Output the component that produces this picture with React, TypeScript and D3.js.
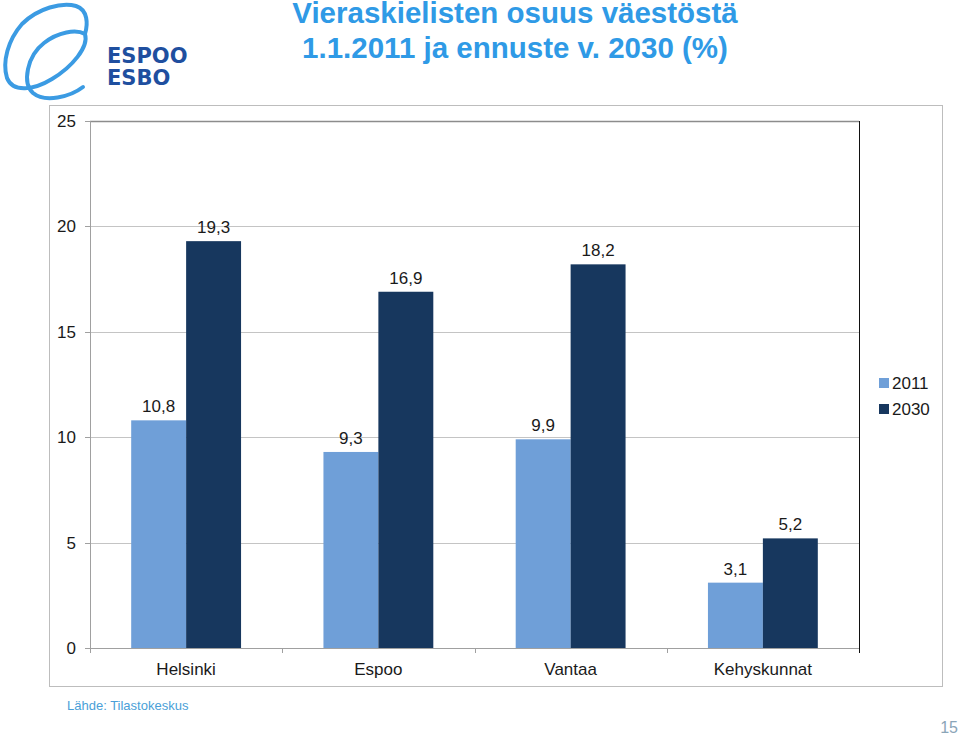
import React, { useEffect, useRef } from "react";
import * as d3 from "d3";

const categories = ["Helsinki", "Espoo", "Vantaa", "Kehyskunnat"];
const seriesNames = ["2011", "2030"];
const values2011 = [10.8, 9.3, 9.9, 3.1];
const values2030 = [19.3, 16.9, 18.2, 5.2];
const yTicks = [0, 5, 10, 15, 20, 25];
const colors = ["#6f9fd8", "#17375e"];

const fmt = (v: number) => String(v).replace(".", ",");

export default function App() {
  const svgRef = useRef<SVGSVGElement>(null);

  useEffect(() => {
    const svg = d3.select(svgRef.current);
    svg.selectAll("*").remove();
    const font = "Liberation Sans, Arial, sans-serif";

    svg.append("rect").attr("width", 960).attr("height", 736).attr("fill", "#fff");

    // logo swirl
    svg.append("path")
      .attr("fill", "none").attr("stroke", "#3b9be3").attr("stroke-width", 4).attr("stroke-linecap", "round")
      .attr("d", "M83,87 C70,97 45,103 33,93 C22,83 27,56 44,43 C58,32 76,29 85,34 C89,47 72,67 52,79 C34,90 13,93 7,78 C2,62 8,40 22,24 C38,8 62,2 76,6 C88,10 88,24 85,34");

    svg.append("text").attr("x", 107).attr("y", 63).attr("font-family", "DejaVu Sans, sans-serif").attr("font-weight", "bold")
      .attr("font-size", 21).attr("fill", "#1f4f9f").text("ESPOO");
    svg.append("text").attr("x", 107).attr("y", 85).attr("font-family", "DejaVu Sans, sans-serif").attr("font-weight", "bold")
      .attr("font-size", 21).attr("fill", "#1f4f9f").text("ESBO");

    // title
    const title = svg.append("text").attr("text-anchor", "middle").attr("font-family", font).attr("font-weight", "bold")
      .attr("font-size", 29.5).attr("fill", "#2f9ae6");
    title.append("tspan").attr("x", 515).attr("y", 23).text("Vieraskielisten osuus väestöstä");
    title.append("tspan").attr("x", 515).attr("y", 58).text("1.1.2011 ja ennuste v. 2030 (%)");

    // chart frame
    svg.append("rect").attr("x", 49.5).attr("y", 105.5).attr("width", 893).attr("height", 581)
      .attr("fill", "none").attr("stroke", "#bdbdbd");

    const left = 90, right = 859, top = 121, bottom = 648;
    const y = d3.scaleLinear().domain([0, 25]).range([bottom, top]);
    const x0 = d3.scaleBand<string>().domain(categories).range([left, right]);
    const x1 = d3.scaleBand<string>().domain(seriesNames).range([0, x0.bandwidth()]).paddingOuter(0.75);

    // gridlines
    svg.append("g").selectAll("line").data(yTicks.filter((t) => t > 0)).enter().append("line")
      .attr("x1", left).attr("x2", right)
      .attr("y1", (d) => Math.round(y(d)) + 0.5).attr("y2", (d) => Math.round(y(d)) + 0.5)
      .attr("stroke", (d) => (d === 25 ? "#8c8c8c" : "#c4c4c4")).attr("stroke-width", (d) => (d === 25 ? 1.5 : 1));

    // bars
    const data = categories.map((c, i) => ({ c, vals: [values2011[i], values2030[i]] }));
    const groups = svg.append("g").selectAll("g").data(data).enter().append("g")
      .attr("transform", (d) => `translate(${x0(d.c)},0)`);
    groups.selectAll("rect").data((d) => d.vals.map((v, j) => ({ s: seriesNames[j], v, j }))).enter().append("rect")
      .attr("x", (d) => x1(d.s)!).attr("width", x1.bandwidth())
      .attr("y", (d) => y(d.v)).attr("height", (d) => bottom - y(d.v))
      .attr("fill", (d) => colors[d.j]);
    groups.selectAll("text").data((d) => d.vals.map((v, j) => ({ s: seriesNames[j], v, j }))).enter().append("text")
      .attr("x", (d) => x1(d.s)! + x1.bandwidth() / 2).attr("y", (d) => y(d.v) - 8)
      .attr("text-anchor", "middle").attr("font-family", font).attr("font-size", 17).attr("fill", "#1a1a1a")
      .text((d) => fmt(d.v));

    // axes
    svg.append("line").attr("x1", left + 0.5).attr("x2", left + 0.5).attr("y1", top).attr("y2", bottom)
      .attr("stroke", "#a0a0a0");
    svg.append("line").attr("x1", right + 0.5).attr("x2", right + 0.5).attr("y1", top).attr("y2", bottom + 5)
      .attr("stroke", "#111");
    svg.append("line").attr("x1", left).attr("x2", right).attr("y1", bottom + 0.5).attr("y2", bottom + 0.5)
      .attr("stroke", "#a0a0a0");

    const yAxis = svg.append("g");
    yAxis.selectAll("line").data(yTicks).enter().append("line")
      .attr("x1", left - 5).attr("x2", left)
      .attr("y1", (d) => Math.round(y(d)) + 0.5).attr("y2", (d) => Math.round(y(d)) + 0.5).attr("stroke", "#a0a0a0");
    yAxis.selectAll("text").data(yTicks).enter().append("text")
      .attr("x", 76).attr("y", (d) => y(d) + 6).attr("text-anchor", "end")
      .attr("font-family", font).attr("font-size", 17).attr("fill", "#1a1a1a").text((d) => d);

    const xAxis = svg.append("g");
    xAxis.selectAll("line").data(categories).enter().append("line")
      .attr("x1", (d) => Math.round(x0(d)!) + 0.5).attr("x2", (d) => Math.round(x0(d)!) + 0.5)
      .attr("y1", bottom).attr("y2", bottom + 5).attr("stroke", "#a0a0a0");
    xAxis.selectAll("text").data(categories).enter().append("text")
      .attr("x", (d) => x0(d)! + x0.bandwidth() / 2).attr("y", 675).attr("text-anchor", "middle")
      .attr("font-family", font).attr("font-size", 17).attr("fill", "#1a1a1a").text((d) => d);

    // legend
    const legend = svg.append("g").selectAll("g").data(seriesNames).enter().append("g")
      .attr("transform", (_, i) => `translate(879,${378 + i * 26})`);
    legend.append("rect").attr("width", 10).attr("height", 10).attr("fill", (_, i) => colors[i]);
    legend.append("text").attr("x", 13).attr("y", 11).attr("font-family", font).attr("font-size", 17)
      .attr("fill", "#1a1a1a").text((d) => d);

    svg.append("text").attr("x", 67).attr("y", 710).attr("font-family", font).attr("font-size", 13)
      .attr("fill", "#4a9fd8").text("Lähde: Tilastokeskus");
    svg.append("text").attr("x", 958).attr("y", 733).attr("text-anchor", "end").attr("font-family", font)
      .attr("font-size", 16).attr("fill", "#8aa5b8").text("15");
  }, []);

  return (
    <svg ref={svgRef} width={960} height={736}
      style={{ position: "absolute", top: 0, left: 0, display: "block" }} />
  );
}
